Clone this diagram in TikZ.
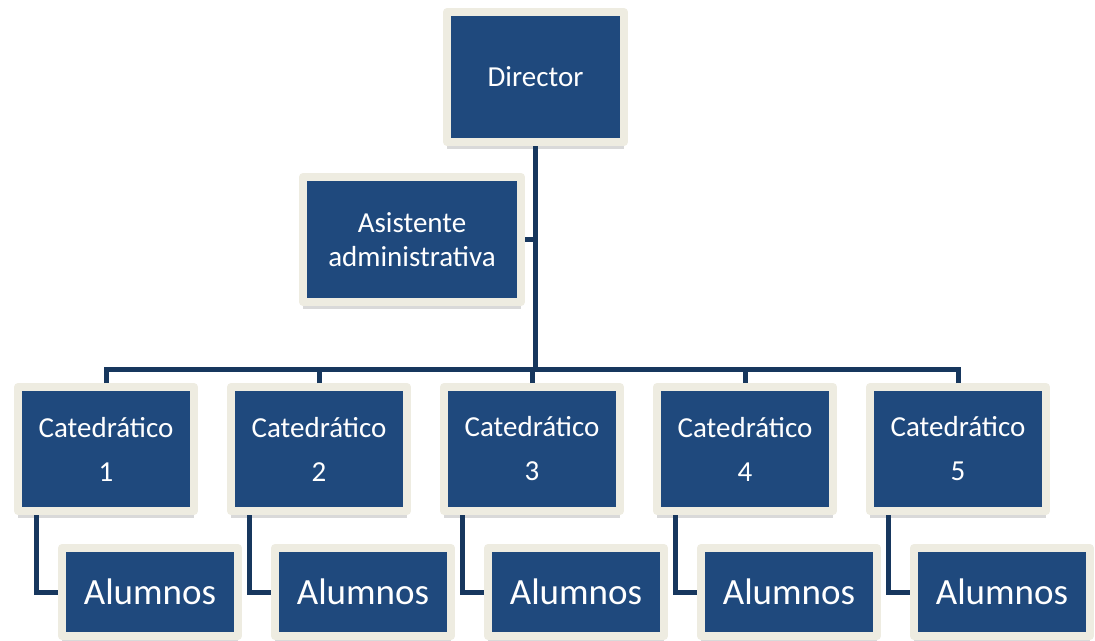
\documentclass[tikz,border=0pt]{standalone}
\usepackage{fontspec}
\setmainfont{Carlito}
\usepackage{tikz}
\usetikzlibrary{positioning,shadows}
\definecolor{boxblue}{HTML}{1F497D}
\definecolor{frame}{HTML}{EEECE1}
\definecolor{navy}{HTML}{17375E}
\tikzset{
  orgbox/.style={rectangle,fill=boxblue,draw=frame,line width=8pt,line join=round,
    text=white,align=center,inner sep=0pt,
    drop shadow={shadow xshift=0pt,shadow yshift=-7pt,opacity=0.25,fill=black!60}},
  link/.style={draw=navy,line width=5pt},
  every node/.style={font=\fontsize{29}{34}\selectfont}
}
\begin{document}
\begin{tikzpicture}[x=1pt,y=-1pt]
  \useasboundingbox (0,0) rectangle (1095,640);
  \node[orgbox,minimum width=177pt,minimum height=130pt] (dir) at (535.5,77) {Director};
  \node[orgbox,minimum width=218pt,minimum height=125pt] (asis) at (412,239.5)
    {Asistente\\administrativa};
  \coordinate (bus) at (0,369);
  \foreach \i in {1,...,5} {
    \node[orgbox,minimum width=176pt,minimum height=124pt,
      font=\fontsize{29}{44}\selectfont] (cat\i) at ({106+213*(\i-1)},449)
      {Catedrático\\\i};
    \node[orgbox,minimum width=176pt,minimum height=88pt,
      font=\fontsize{37}{40}\selectfont] (alu\i) at ({150+213*(\i-1)},592) {Alumnos};
  }
  % lines
  \draw[link] (dir.south) -- (dir.south |- bus);
  \draw[link] (asis.east) -- (asis.east -| dir.south);
  \foreach \i in {1,...,5} {
    \draw[link] (cat\i.north) |- (dir.south |- bus);
    \draw[link] ([xshift=22pt]cat\i.south west) |- (alu\i.west);
  }
\end{tikzpicture}
\end{document}
